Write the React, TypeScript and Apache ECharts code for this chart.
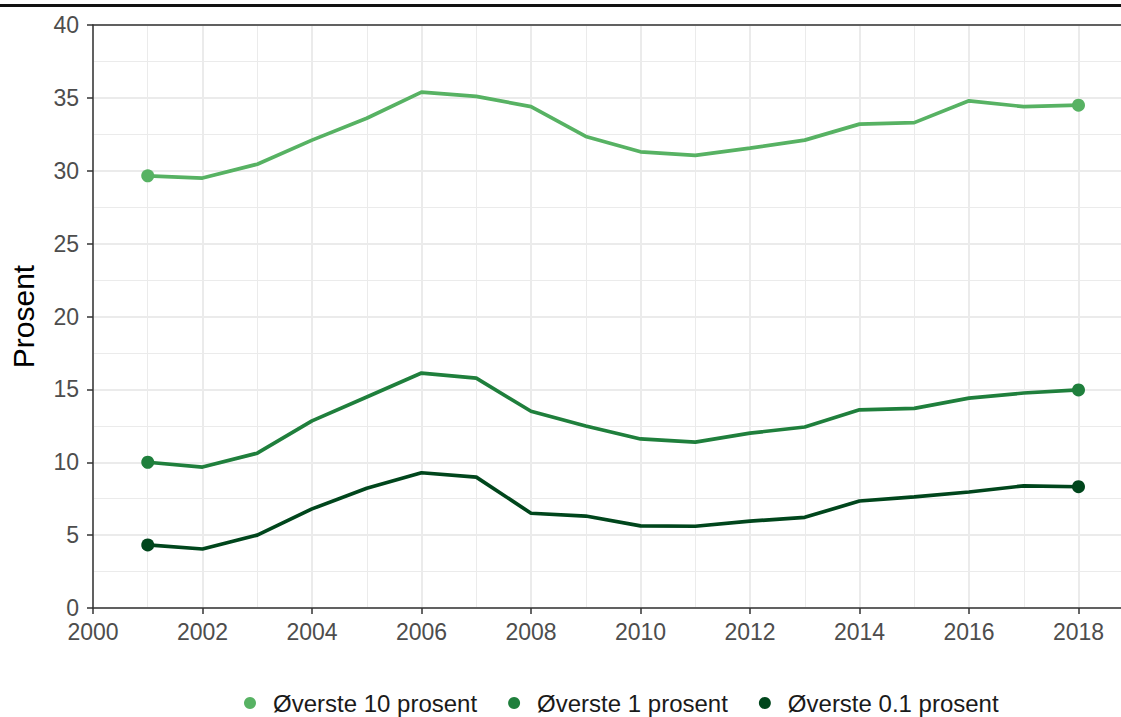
import React, { useEffect, useRef } from "react";
import * as echarts from "echarts";

const years = [2001, 2002, 2003, 2004, 2005, 2006, 2007, 2008, 2009, 2010, 2011, 2012, 2013, 2014, 2015, 2016, 2017, 2018];
const top10 = [29.65, 29.5, 30.45, 32.1, 33.6, 35.4, 35.1, 34.4, 32.35, 31.3, 31.05, 31.55, 32.1, 33.2, 33.3, 34.8, 34.4, 34.5];
const top1 = [10.0, 9.67, 10.62, 12.84, 14.48, 16.12, 15.77, 13.5, 12.49, 11.6, 11.38, 12.0, 12.42, 13.6, 13.7, 14.4, 14.75, 14.96];
const top01 = [4.33, 4.05, 5.0, 6.8, 8.22, 9.28, 8.98, 6.5, 6.31, 5.63, 5.61, 5.96, 6.22, 7.34, 7.63, 7.96, 8.38, 8.32];
const seriesNames = ["Øverste 10 prosent", "Øverste 1 prosent", "Øverste 0.1 prosent"];
const seriesColors = ["#57b263", "#1f7f3c", "#00461c"];
const yTitle = "Prosent";

const FONT = "'Liberation Sans', Arial, sans-serif";
const PAGE_W = 1121;
const PAGE_H = 717;
const CHART_W = 1188;

export default function App() {
  const ref = useRef<HTMLDivElement>(null);
  useEffect(() => {
    if (!ref.current) return;
    const chart = echarts.init(ref.current, null, { renderer: "svg" });
    const allData = [top10, top1, top01];
    const n = years.length;
    chart.setOption({
      animation: false,
      textStyle: { fontFamily: FONT },
      graphic: [
        { type: "rect", shape: { x: 0, y: 4, width: PAGE_W, height: 3 }, style: { fill: "#111" }, z: 100 },
      ],
      grid: { left: 91, top: 25, right: 0, bottom: 109, containLabel: false },
      legend: {
        top: 691,
        left: 244,
        padding: 0,
        icon: "circle",
        itemWidth: 12,
        itemHeight: 12,
        itemGap: 31,
        textStyle: { fontSize: 24, color: "#1a1a1a", fontFamily: FONT, padding: [0, 0, 0, 12] },
        data: seriesNames,
      },
      xAxis: [
        {
          type: "value",
          min: 2000,
          max: 2020,
          interval: 2,
          axisLine: { show: true, lineStyle: { color: "#333", width: 1.5 } },
          axisTick: { show: true, length: 6, lineStyle: { color: "#333", width: 1.5 } },
          axisLabel: {
            color: "#4d4d4d",
            fontSize: 23,
            margin: 14,
            lineHeight: 20,
            fontFamily: FONT,
            showMaxLabel: false,
            formatter: (v: number) => (v > 2018 ? "" : String(v)),
          },
          splitLine: { show: true, lineStyle: { color: "#ebebeb", width: 2 } },
          minorTick: { show: false, splitNumber: 2 },
          minorSplitLine: { show: true, lineStyle: { color: "#ebebeb", width: 1 } },
        },
        {
          type: "value",
          position: "top",
          min: 2000,
          max: 2020,
          axisLine: { show: true, onZero: false, lineStyle: { color: "#333", width: 1.5 } },
          axisTick: { show: false },
          axisLabel: { show: false },
          splitLine: { show: false },
        },
      ],
      yAxis: {
        type: "value",
        min: 0,
        max: 40,
        interval: 5,
        name: yTitle,
        nameLocation: "middle",
        nameGap: 55,
        nameTextStyle: { fontSize: 30, color: "#000", fontFamily: FONT },
        axisLine: { show: true, lineStyle: { color: "#333", width: 1.5 } },
        axisTick: { show: true, length: 6, lineStyle: { color: "#333", width: 1.5 } },
        axisLabel: { color: "#4d4d4d", fontSize: 23, margin: 14, lineHeight: 18, fontFamily: FONT },
        splitLine: { show: true, lineStyle: { color: "#ebebeb", width: 2 } },
        minorTick: { show: false, splitNumber: 2 },
        minorSplitLine: { show: true, lineStyle: { color: "#ebebeb", width: 1 } },
      },
      series: seriesNames.map((name, i) => ({
        name,
        type: "line",
        xAxisIndex: 0,
        data: years.map((y, j) => [y, allData[i][j]]),
        color: seriesColors[i],
        lineStyle: { width: 3.7, color: seriesColors[i] },
        itemStyle: { color: seriesColors[i] },
        symbol: "circle",
        showSymbol: true,
        symbolSize: (_v: any, p: any) => (p.dataIndex === 0 || p.dataIndex === n - 1 ? 13 : 0),
        z: 10 - i,
      })),
    });
    return () => chart.dispose();
  }, []);
  return (
    <div style={{ position: "fixed", left: 0, top: 0, width: PAGE_W, height: PAGE_H, overflow: "hidden", background: "#fff" }}>
      <div ref={ref} style={{ width: CHART_W, height: PAGE_H }} />
    </div>
  );
}
